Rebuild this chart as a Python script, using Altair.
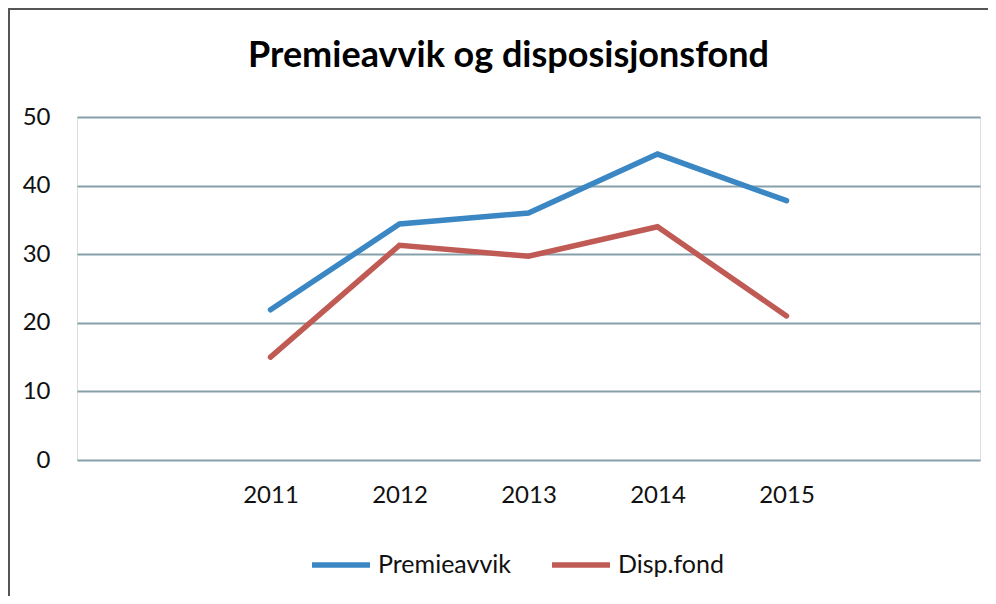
import altair as alt
import pandas as pd

years = [2011, 2012, 2013, 2014, 2015]
premieavvik = [21.9, 34.4, 36.0, 44.6, 37.8]
disp_fond = [15.0, 31.3, 29.7, 34.0, 21.0]
series_names = ["Premieavvik", "Disp.fond"]
series_colors = ["#3a87c4", "#c05a55"]
y_ticks = [0, 10, 20, 30, 40, 50]

rows = []
for name, vals in zip(series_names, [premieavvik, disp_fond]):
    for yr, v in zip(years, vals):
        rows.append({"År": yr, "Verdi": v, "Serie": name})
df = pd.DataFrame(rows)

W, H = 903, 343
PAD_L, PAD_T = 69, 109

lines = alt.Chart(df).mark_line(strokeWidth=5.5, strokeCap="round").encode(
    x=alt.X("År:Q",
            scale=alt.Scale(domain=[2009.5, 2016.5], nice=False, zero=False),
            axis=alt.Axis(values=years, format="d", title=None, grid=False,
                          domain=False, ticks=False, labelPadding=23,
                          labelFontSize=24, labelColor="#111111",
                          labelFont="Lato")),
    y=alt.Y("Verdi:Q",
            scale=alt.Scale(domain=[0, 50], nice=False),
            axis=alt.Axis(values=y_ticks, title=None, domain=False, ticks=False,
                          labelPadding=27, labelFontSize=24,
                          labelColor="#111111", labelFont="Lato",
                          gridColor="#86a0a9", gridWidth=2, gridOpacity=1)),
    color=alt.Color("Serie:N",
                    scale=alt.Scale(domain=series_names, range=series_colors),
                    legend=alt.Legend(title=None, orient="none", direction="horizontal",
                                      legendX=232, legendY=416,
                                      symbolType="stroke", symbolSize=3364,
                                      symbolStrokeWidth=5.5, labelFontSize=25,
                                      labelFont="Lato", labelColor="#111111",
                                      labelOffset=5, columnPadding=30)),
)

border = alt.Chart(pd.DataFrame({"a": [0]})).mark_rule(color="#555555", strokeWidth=2).encode(
    x=alt.value(-PAD_L + 1), y=alt.value(-PAD_T), y2=alt.value(604 - 8 - PAD_T)
)
border_top = alt.Chart(pd.DataFrame({"a": [0]})).mark_rule(color="#555555", strokeWidth=2).encode(
    x=alt.value(-PAD_L), x2=alt.value(996 - 8 - PAD_L), y=alt.value(-PAD_T + 1)
)

chart = alt.layer(lines, border, border_top).properties(
    width=W, height=H,
    autosize=alt.AutoSizeParams(type="none"),
    padding={"left": PAD_L, "top": PAD_T, "right": 996 - 16 - PAD_L - W, "bottom": 604 - 16 - PAD_T - H},
    title=alt.TitleParams("Premieavvik og disposisjonsfond", font="Lato", fontSize=36,
                          fontWeight="bold", color="#000000", anchor="middle",
                          baseline="alphabetic", dx=-20, offset=-96),
).configure_view(stroke=None).configure(background="white")

chart.save("out.html", embed_options={"renderer": "svg", "actions": False})
